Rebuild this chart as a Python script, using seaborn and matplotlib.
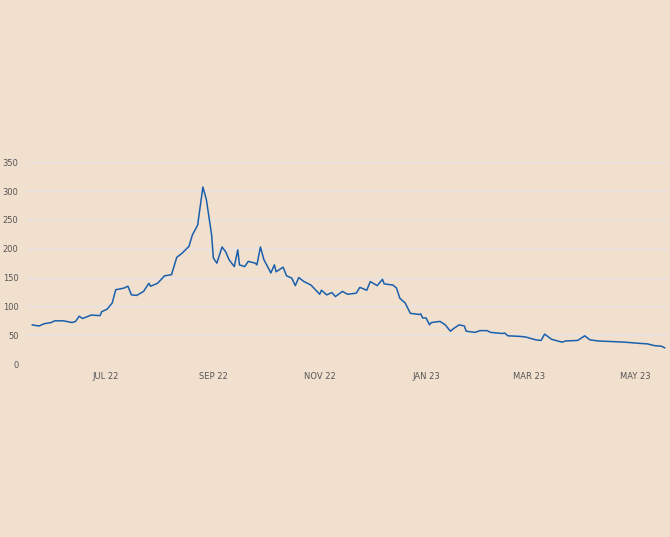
import pandas as pd
import seaborn as sns
import matplotlib.pyplot as plt
import matplotlib.dates as mdates

dates = ['2022-05-20', '2022-05-24', '2022-05-27', '2022-05-31', '2022-06-02', '2022-06-07',
         '2022-06-12', '2022-06-14', '2022-06-16', '2022-06-18', '2022-06-23', '2022-06-28',
         '2022-06-29', '2022-07-02', '2022-07-05', '2022-07-07', '2022-07-09', '2022-07-12',
         '2022-07-14', '2022-07-16', '2022-07-19', '2022-07-23', '2022-07-26', '2022-07-27',
         '2022-07-31', '2022-08-04', '2022-08-08', '2022-08-11', '2022-08-14', '2022-08-18',
         '2022-08-20', '2022-08-23', '2022-08-26', '2022-08-28', '2022-08-31', '2022-09-01',
         '2022-09-03', '2022-09-06', '2022-09-08', '2022-09-10', '2022-09-13', '2022-09-15',
         '2022-09-16', '2022-09-19', '2022-09-21', '2022-09-25', '2022-09-26', '2022-09-28',
         '2022-09-30', '2022-10-04', '2022-10-06', '2022-10-07', '2022-10-11', '2022-10-13',
         '2022-10-16', '2022-10-18', '2022-10-20', '2022-10-23', '2022-10-27', '2022-11-01',
         '2022-11-02', '2022-11-05', '2022-11-08', '2022-11-10', '2022-11-14', '2022-11-17',
         '2022-11-22', '2022-11-24', '2022-11-28', '2022-11-30', '2022-12-04', '2022-12-07',
         '2022-12-08', '2022-12-13', '2022-12-15', '2022-12-17', '2022-12-20', '2022-12-23',
         '2022-12-28', '2022-12-29', '2022-12-30', '2023-01-01', '2023-01-03', '2023-01-04',
         '2023-01-09', '2023-01-12', '2023-01-15', '2023-01-17', '2023-01-20', '2023-01-23',
         '2023-01-24', '2023-01-29', '2023-02-01', '2023-02-05', '2023-02-07', '2023-02-14',
         '2023-02-15', '2023-02-17', '2023-02-24', '2023-02-27', '2023-03-05', '2023-03-08',
         '2023-03-10', '2023-03-14', '2023-03-20', '2023-03-22', '2023-03-29', '2023-04-02',
         '2023-04-05', '2023-04-10', '2023-04-18', '2023-04-25', '2023-05-03', '2023-05-08',
         '2023-05-12', '2023-05-16', '2023-05-18']
values = [68, 66, 70, 72, 75, 75, 72, 74, 83, 79, 85, 84,
          91, 95, 106, 129, 130, 132, 135, 120, 119, 126, 140, 135,
          140, 153, 155, 185, 192, 204, 224, 241, 307, 285, 224, 184,
          175, 203, 195, 181, 169, 198, 172, 169, 178, 175, 172, 203,
          181, 158, 172, 160, 168, 153, 149, 136, 150, 143, 137, 121,
          128, 120, 124, 117, 126, 121, 123, 133, 128, 143, 136, 147,
          139, 137, 132, 114, 106, 88, 86, 87, 80, 80, 68, 72,
          74, 68, 57, 62, 68, 66, 57, 55, 58, 58, 55, 53,
          54, 49, 48, 47, 42, 41, 52, 43, 38, 40, 41, 49,
          42, 40, 39, 38, 36, 35, 32, 31, 28]
y_ticks = [0, 50, 100, 150, 200, 250, 300, 350]

df = pd.DataFrame({'date': pd.to_datetime(dates), 'value': values})

bg = '#f2e0cf'
sns.set_style('white')
fig = plt.figure(figsize=(6.7, 5.37), dpi=100, facecolor=bg)
ax = fig.add_axes([0.04, 0.322, 0.955, 0.376], facecolor=bg)
sns.lineplot(data=df, x='date', y='value', ax=ax, color='#1a5fac', linewidth=1.1)

ax.set_ylim(0, 350)
ax.set_yticks(y_ticks)
ax.set_xlim(pd.Timestamp('2022-05-17'), pd.Timestamp('2023-05-19'))
ax.xaxis.set_major_locator(mdates.MonthLocator(bymonth=[1, 3, 5, 7, 9, 11]))
ax.xaxis.set_major_formatter(mdates.DateFormatter('%b %y'))
fig.canvas.draw()
ax.set_xticklabels([t.get_text().upper() for t in ax.get_xticklabels()])
ax.tick_params(axis='both', labelsize=6, colors='#555555', length=0, pad=6)
ax.tick_params(axis='x', length=4, color='#dddddd', direction='in')
ax.grid(axis='y', color='#e4e4e4', linewidth=1)
ax.set_xlabel('')
ax.set_ylabel('')
for s in ax.spines.values():
    s.set_visible(False)

fig.savefig('out.png', facecolor=bg)
